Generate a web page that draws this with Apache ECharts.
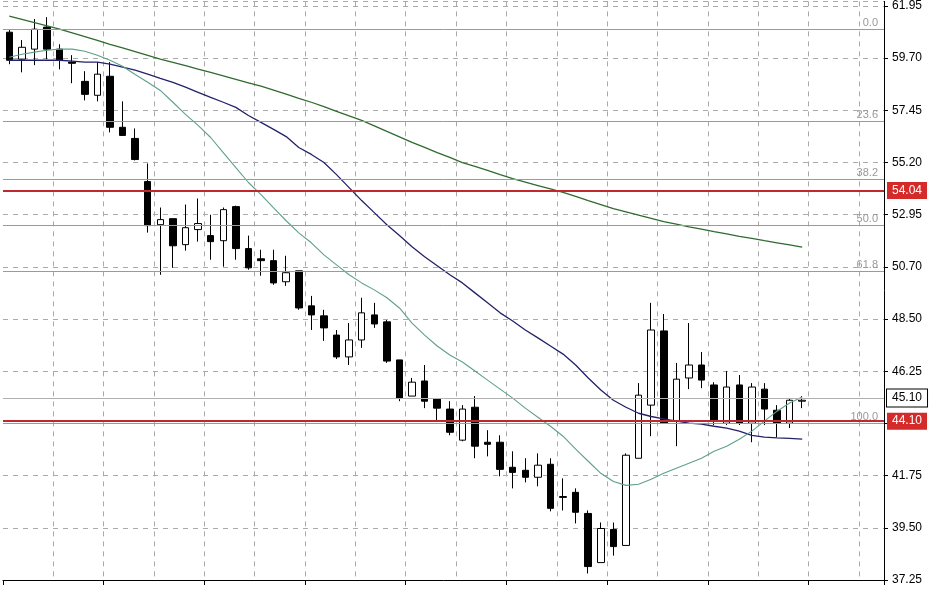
<!DOCTYPE html>
<html><head><meta charset="utf-8">
<script src="https://cdn.jsdelivr.net/npm/echarts@6/dist/echarts.min.js"></script>
<style>html,body{margin:0;padding:0;background:#fff}#c{width:948px;height:593px}</style>
</head><body><div id="c"></div>
<script>
// OHLC: [open, close, low, high]
const ohlc = [
[60.87,59.66,59.49,60.96],[59.71,60.22,59.14,60.53],[60.14,61.00,59.45,61.44],[61.09,60.14,59.71,61.52],
[60.14,59.66,59.27,60.35],[59.58,59.53,58.67,59.88],[58.75,58.19,57.93,59.19],[58.15,59.06,57.89,59.58],
[58.97,56.77,56.55,59.58],[56.77,56.42,56.42,57.89],[56.29,55.38,55.34,56.72],[54.43,52.53,52.23,55.21],
[52.57,52.79,50.41,53.31],[52.83,51.66,50.71,52.83],[51.71,52.44,51.45,53.44],[52.36,52.62,51.84,53.70],
[52.10,51.84,51.06,53.00],[51.88,53.22,50.76,53.31],[53.35,51.54,51.06,53.39],[51.54,50.71,50.63,52.10],
[51.10,51.02,50.37,51.49],[51.02,50.06,49.98,51.49],[50.11,50.50,49.93,51.23],[50.58,48.98,48.90,50.58],
[49.07,48.68,48.03,49.50],[48.64,48.12,47.56,48.90],[47.81,46.87,46.78,48.03],[46.87,47.60,46.52,48.33],
[47.60,48.77,47.26,49.42],[48.68,48.29,48.12,49.20],[48.38,46.69,46.61,48.46],[46.74,45.09,44.96,46.74],
[45.18,45.78,45.18,45.96],[45.83,44.96,44.66,46.52],[45.05,44.66,44.06,45.09],[44.62,43.62,43.49,44.96],
[43.28,44.62,43.23,44.79],[44.70,43.02,42.50,45.18],[43.19,43.10,42.58,43.71],[43.19,42.02,41.72,43.49],
[42.11,41.89,41.20,42.80],[41.98,41.68,41.46,42.50],[41.68,42.20,41.29,42.71],[42.24,40.34,40.21,42.50],
[40.81,40.85,40.25,41.63],[41.03,40.17,39.69,41.20],[40.12,37.83,37.53,40.25],[38.00,39.47,38.00,39.73],
[39.43,38.69,38.30,39.73],[38.74,42.63,38.74,42.71],[42.50,45.22,42.50,45.74],[44.79,48.03,43.45,49.20],
[47.99,44.01,44.01,48.72],[44.10,45.91,43.02,46.61],[45.96,46.52,45.48,48.33],[46.52,45.87,45.52,47.08],
[45.66,44.14,43.93,45.78],[44.01,45.57,43.93,46.26],[45.66,44.01,43.93,46.09],[44.01,45.57,43.19,45.74],
[45.48,44.62,43.93,45.74],[44.57,44.01,43.41,44.79],[44.01,45.00,43.80,45.09],[44.96,45.00,44.66,45.18]
];
const maLong = [61.56,61.42,61.28,61.14,61.00,60.84,60.68,60.52,60.35,60.19,60.03,59.87,59.71,59.57,59.43,59.28,59.14,58.99,58.84,58.69,58.54,58.37,58.20,58.02,57.85,57.66,57.46,57.26,57.07,56.83,56.59,56.36,56.12,55.90,55.68,55.47,55.25,55.08,54.91,54.73,54.56,54.41,54.26,54.11,53.96,53.79,53.61,53.44,53.26,53.12,52.98,52.84,52.70,52.59,52.48,52.38,52.27,52.17,52.07,51.98,51.88,51.79,51.70,51.60];
const maMid = [59.66,59.66,59.66,59.66,59.66,59.62,59.58,59.58,59.49,59.36,59.23,59.06,58.88,58.71,58.50,58.28,58.06,57.85,57.63,57.28,56.98,56.68,56.37,55.90,55.60,55.25,54.73,54.17,53.61,53.09,52.57,52.10,51.62,51.19,50.80,50.41,50.06,49.63,49.20,48.77,48.42,48.03,47.69,47.34,46.99,46.52,45.96,45.44,45.00,44.70,44.44,44.30,44.20,44.10,44.01,43.97,43.88,43.80,43.67,43.49,43.41,43.38,43.36,43.32];
const maShort = [59.79,59.92,60.01,60.09,60.14,60.14,60.05,59.88,59.66,59.40,59.05,58.71,58.36,57.85,57.33,56.85,56.33,55.68,55.03,54.39,53.87,53.30,52.74,52.22,51.79,51.27,50.84,50.41,50.06,49.76,49.42,48.98,48.33,47.81,47.34,46.95,46.65,46.26,45.87,45.48,45.09,44.66,44.27,43.88,43.45,42.89,42.37,41.85,41.50,41.33,41.38,41.59,41.85,42.07,42.28,42.50,42.80,43.02,43.32,43.67,44.10,44.53,44.88,45.14];
const yTickLabels = ['37.25','39.50','41.75','44.00','46.25','48.50','50.70','52.95','55.20','57.45','59.70','61.95'];
const fibLevels = [[61.00,'0.0'],[57.01,'23.6'],[54.54,'38.2'],[52.55,'50.0'],[50.56,'61.8'],[44.00,'100.0']];
const redLevels = [54.04, 44.10];
const priceLevel = 45.10;
const totalSlots = 70;

const cats = [];
for (let i = 0; i < totalSlots; i++) cats.push(String(i));
const pad = a => a.concat(new Array(totalSlots - a.length).fill('-'));

const chart = echarts.init(document.getElementById('c'));
const fibLines = fibLevels.map(f => ({yAxis: f[0], lineStyle:{color:'#9a9a9a',width:1,type:'solid'},
  label:{show:true,position:'insideEndTop',formatter:f[1],color:'#999',fontSize:11,distance:[6,1]}}));
const redLines = redLevels.map(v => ({yAxis: v, lineStyle:{color:'#c0282d',width:2,type:'solid'},
  label:{show:true,position:'end',formatter:v.toFixed(2),color:'#fff',backgroundColor:'#d42a2a',padding:[3,5,2,5],fontSize:12,distance:3}}));
const priceLine = {yAxis: priceLevel, lineStyle:{color:'#b0b0b0',width:1,type:'solid'},
  label:{show:true,position:'end',formatter:priceLevel.toFixed(2),color:'#000',backgroundColor:'#fff',borderColor:'#000',borderWidth:1,padding:[3,5,2,5],fontSize:12,distance:3}};

chart.setOption({
  animation:false,
  textStyle:{fontFamily:'Liberation Sans, Arial'},
  grid:{left:3,right:64,top:-2,bottom:13},
  xAxis:{type:'category',data:cats,boundaryGap:true,
    axisLine:{lineStyle:{color:'#000'}},axisTick:{show:true,interval:(i)=>i%8===0,length:5,lineStyle:{color:'#000'}},
    axisLabel:{show:false},
    splitLine:{show:true,interval:(i)=>i%4===0&&i>0,lineStyle:{color:'#aaa',type:[5,5]}}},
  yAxis:{type:'value',position:'right',min:37.25,max:62.2,interval:2.25,
    axisLine:{show:true,lineStyle:{color:'#000'}},axisTick:{show:true,length:4,lineStyle:{color:'#000'}},
    axisLabel:{color:'#000',fontSize:12,margin:8,formatter:(v)=>{const i=Math.round((v-37.25)/2.25);return (i===3)?'':(yTickLabels[i]||'');}},
    splitLine:{show:true,lineStyle:{color:'#aaa',type:[5,5]}}},
  series:[
    {type:'candlestick',data:pad(ohlc),barWidth:7,
      itemStyle:{color:'#fff',color0:'#000',borderColor:'#000',borderColor0:'#000',borderWidth:1},
      markLine:{symbol:'none',silent:true,animation:false,data:fibLines.concat(redLines,[priceLine])}},
    {type:'line',data:pad(maLong),symbol:'none',lineStyle:{color:'#2f6b2f',width:1.3},z:3},
    {type:'line',data:pad(maMid),symbol:'none',lineStyle:{color:'#22226a',width:1.3},z:3},
    {type:'line',data:pad(maShort),symbol:'none',lineStyle:{color:'#5fa08a',width:1.1},z:3}
  ]
});
</script></body></html>
